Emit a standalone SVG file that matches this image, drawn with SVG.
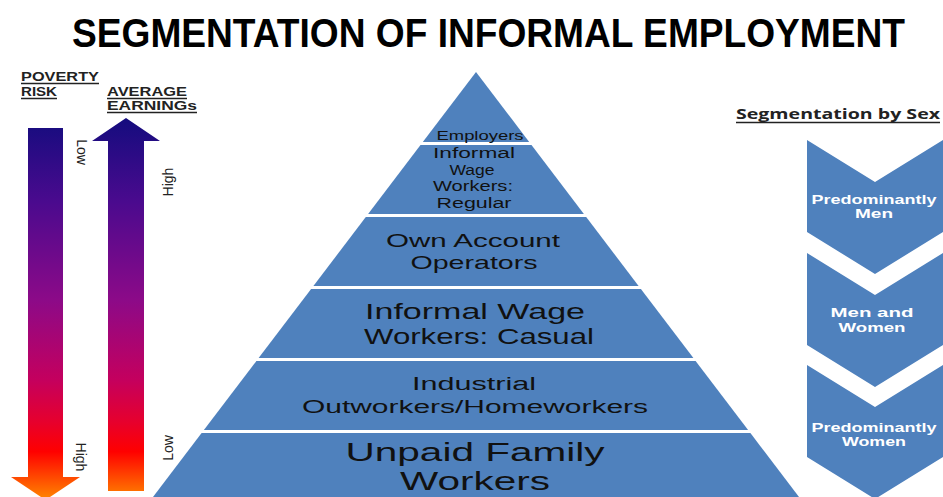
<svg xmlns="http://www.w3.org/2000/svg" width="943" height="497" viewBox="0 0 943 497">
  <defs>
    <linearGradient id="heat" gradientUnits="userSpaceOnUse" x1="0" y1="118" x2="0" y2="497">
      <stop offset="0" stop-color="#140c7e"/>
      <stop offset="0.22" stop-color="#4a0a8e"/>
      <stop offset="0.48" stop-color="#8c0a88"/>
      <stop offset="0.69" stop-color="#c4005e"/>
      <stop offset="0.80" stop-color="#e6002e"/>
      <stop offset="0.88" stop-color="#ff0000"/>
      <stop offset="1" stop-color="#ff8000"/>
    </linearGradient>
    <style>
      .blk { fill: #4f81bd; }
      .pt { font-family: "Liberation Sans", Arial, sans-serif; fill: #111; text-anchor: middle; }
      .ct { font-family: "Liberation Sans", Arial, sans-serif; font-weight: bold; fill: #fff; font-size: 12px; text-anchor: middle; }
      .hd { font-family: "Liberation Sans", Arial, sans-serif; font-weight: bold; fill: #222; font-size: 12px; }
      .hs { font-family: "Open Sans", "Liberation Sans", sans-serif; font-weight: bold; fill: #222; font-size: 13.5px; }
      .ul { stroke: #222; stroke-width: 1.3; }
      .rt { font-family: "Liberation Sans", Arial, sans-serif; fill: #222; font-size: 14px; text-anchor: middle; }
    </style>
  </defs>
  <rect width="943" height="497" fill="#fff"/>

  <text transform="translate(72,47) scale(1,1.12)" x="0" y="0" font-family="Liberation Sans, Arial, sans-serif" font-weight="bold" font-size="37" fill="#000" textLength="833" lengthAdjust="spacingAndGlyphs">SEGMENTATION OF INFORMAL EMPLOYMENT</text>

  <!-- Left scale -->
  <g id="poverty-risk">
    <text class="hd" x="21" y="81" textLength="78" lengthAdjust="spacingAndGlyphs">POVERTY</text>
    <line class="ul" x1="21" y1="83.5" x2="99" y2="83.5"/>
    <text class="hd" x="21" y="96" textLength="36" lengthAdjust="spacingAndGlyphs">RISK</text>
    <line class="ul" x1="21" y1="98.5" x2="57" y2="98.5"/>
    <polygon fill="url(#heat)" points="28,128 63,128 63,477 80,477 45.5,500 11,477 28,477"/>
    <text class="rt" transform="translate(82,152) rotate(90)" y="5">Low</text>
    <text class="rt" transform="translate(81,457) rotate(90)" y="5">High</text>
  </g>
  <g id="average-earnings">
    <text class="hd" x="107" y="96" textLength="80" lengthAdjust="spacingAndGlyphs">AVERAGE</text>
    <line class="ul" x1="107" y1="98.5" x2="187" y2="98.5"/>
    <text class="hd" x="107" y="110" textLength="90" lengthAdjust="spacingAndGlyphs">EARNINGs</text>
    <line class="ul" x1="107" y1="112.5" x2="197" y2="112.5"/>
    <polygon fill="url(#heat)" points="126,118 160,141 144,141 144,491 108,491 108,141 92,141"/>
    <text class="rt" transform="translate(168,182) rotate(-90)" y="5">High</text>
    <text class="rt" transform="translate(168,448) rotate(-90)" y="5">Low</text>
  </g>

  <!-- Pyramid -->
  <g id="employers">
    <polygon class="blk" points="476,72 529.2,142 422.8,142"/>
    <text class="pt" x="480" y="140" font-size="12" textLength="87" lengthAdjust="spacingAndGlyphs">Employers</text>
  </g>
  <g id="informal-wage-regular">
    <polygon class="blk" points="420.5,145 531.5,145 583.9,214 368.1,214"/>
    <text class="pt" x="474" y="158" font-size="14" textLength="82" lengthAdjust="spacingAndGlyphs">Informal</text>
    <text class="pt" x="472" y="175" font-size="14" textLength="45" lengthAdjust="spacingAndGlyphs">Wage</text>
    <text class="pt" x="473" y="191" font-size="14" textLength="80" lengthAdjust="spacingAndGlyphs">Workers:</text>
    <text class="pt" x="474" y="208" font-size="14" textLength="75" lengthAdjust="spacingAndGlyphs">Regular</text>
  </g>
  <g id="own-account">
    <polygon class="blk" points="365.8,217 586.2,217 638.6,286 313.4,286"/>
    <text class="pt" x="473" y="247" font-size="19" textLength="174" lengthAdjust="spacingAndGlyphs">Own Account</text>
    <text class="pt" x="474" y="269" font-size="19" textLength="127" lengthAdjust="spacingAndGlyphs">Operators</text>
  </g>
  <g id="informal-wage-casual">
    <polygon class="blk" points="311.1,289 640.9,289 693.4,358 258.6,358"/>
    <text class="pt" x="475" y="319" font-size="22" textLength="220" lengthAdjust="spacingAndGlyphs">Informal Wage</text>
    <text class="pt" x="479" y="344" font-size="22" textLength="230" lengthAdjust="spacingAndGlyphs">Workers: Casual</text>
  </g>
  <g id="industrial-outworkers">
    <polygon class="blk" points="256.4,361 695.6,361 748.1,430 203.9,430"/>
    <text class="pt" x="474" y="390" font-size="18" textLength="124" lengthAdjust="spacingAndGlyphs">Industrial</text>
    <text class="pt" x="475" y="413" font-size="18" textLength="346" lengthAdjust="spacingAndGlyphs">Outworkers/Homeworkers</text>
  </g>
  <g id="unpaid-family">
    <polygon class="blk" points="201.6,433 750.4,433 808.9,510 143.1,510"/>
    <text class="pt" x="475" y="461" font-size="26" textLength="259" lengthAdjust="spacingAndGlyphs">Unpaid Family</text>
    <text class="pt" x="475" y="490" font-size="25" textLength="150" lengthAdjust="spacingAndGlyphs">Workers</text>
  </g>

  <!-- Segmentation by sex -->
  <g id="sex-heading">
    <text class="hs" x="736" y="119" textLength="204" lengthAdjust="spacingAndGlyphs">Segmentation by Sex</text>
    <line class="ul" x1="736" y1="122.5" x2="940" y2="122.5"/>
  </g>
  <g id="predominantly-men">
    <polygon class="blk" points="807,140 875,182 943,140 943,232 875,274 807,232"/>
    <text class="ct" x="874" y="204" textLength="125" lengthAdjust="spacingAndGlyphs">Predominantly</text>
    <text class="ct" x="874" y="218" textLength="38" lengthAdjust="spacingAndGlyphs">Men</text>
  </g>
  <g id="men-and-women">
    <polygon class="blk" points="807,253 875,295 943,253 943,345 875,387 807,345"/>
    <text class="ct" x="872" y="317" textLength="83" lengthAdjust="spacingAndGlyphs">Men and</text>
    <text class="ct" x="872" y="332" textLength="67" lengthAdjust="spacingAndGlyphs">Women</text>
  </g>
  <g id="predominantly-women">
    <polygon class="blk" points="807,365 875,407 943,365 943,457 875,499 807,457"/>
    <text class="ct" x="874" y="432" textLength="125" lengthAdjust="spacingAndGlyphs">Predominantly</text>
    <text class="ct" x="874" y="446" textLength="64" lengthAdjust="spacingAndGlyphs">Women</text>
  </g>

  <g id="connectors"/>
</svg>
